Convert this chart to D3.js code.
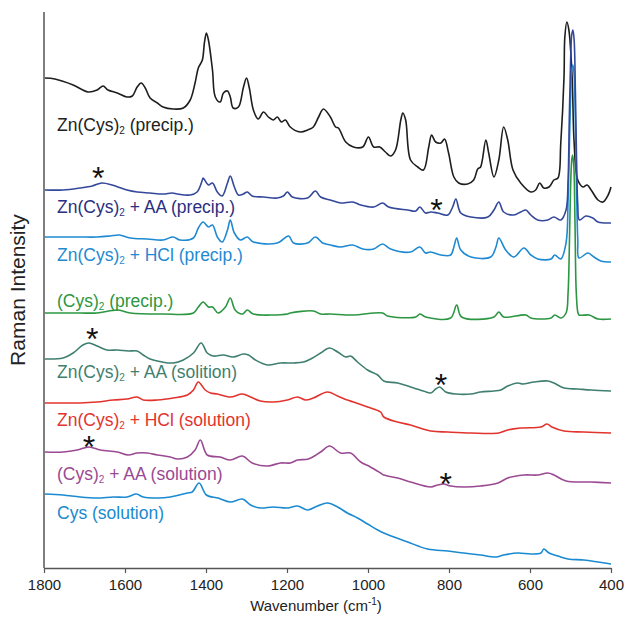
<!DOCTYPE html>
<html><head><meta charset="utf-8">
<script src="https://cdn.jsdelivr.net/npm/d3@7"></script>
<style>
html,body{margin:0;padding:0;background:#fff;}
svg{display:block;font-family:"Liberation Sans",Arial,sans-serif;}
</style></head>
<body>
<svg id="chart" width="628" height="622"></svg>
<script>
// Wavenumber axis ticks
const xTicks = [1800, 1600, 1400, 1200, 1000, 800, 600, 400];

// Spectra: [wavenumber (cm-1), stacked intensity (a.u.)]
const znCysPrecip = [[1798,490],[1773,489],[1728,483],[1691,476],[1669,478],[1654,482],[1642,478],[1619,475],[1595,471],[1582,472],[1570,481],[1560,485],[1550,480],[1538,470],[1520,465],[1506,461],[1481,459],[1456,460],[1439,468],[1427,485],[1419,500],[1409,508],[1404,525],[1399,535],[1394,528],[1384,498],[1377,471],[1365,466],[1357,475],[1347,477],[1340,471],[1333,460],[1320,461],[1308,480],[1300,490],[1293,480],[1283,458],[1271,449],[1258,456],[1246,451],[1234,448],[1224,451],[1214,446],[1204,448],[1192,441],[1167,436],[1149,438],[1135,441],[1122,451],[1110,459],[1093,451],[1080,441],[1073,440],[1055,426],[1036,421],[1013,421],[999,431],[986,421],[971,421],[957,416],[944,412],[932,418],[919,448],[914,455],[907,448],[895,408],[877,401],[863,398],[850,421],[843,433],[833,426],[820,425],[811,429],[801,415],[788,391],[776,385],[754,384],[739,388],[729,399],[722,401],[709,428],[702,415],[689,391],[677,408],[665,441],[655,428],[642,398],[623,385],[598,376],[586,378],[576,385],[566,380],[553,381],[541,388],[531,390],[524,425],[516,491],[514,531],[509,546],[504,538],[496,491],[491,425],[482,388],[469,381],[459,383],[449,378],[432,368],[420,366],[407,373],[400,381]];

const znCysAAPrecip = [[1798,378],[1753,378],[1711,380],[1681,382],[1657,385],[1632,383],[1617,381],[1595,378],[1570,376],[1538,375],[1506,374],[1483,375],[1471,374],[1439,373],[1422,376],[1409,388],[1407,390],[1394,383],[1384,385],[1372,376],[1360,372],[1347,385],[1340,392],[1330,381],[1320,373],[1308,374],[1298,376],[1286,372],[1258,371],[1224,370],[1209,372],[1199,376],[1187,371],[1149,370],[1130,377],[1117,371],[1093,368],[1068,365],[1038,366],[1018,363],[986,361],[964,365],[949,361],[902,358],[882,357],[872,361],[858,355],[845,356],[828,355],[803,353],[791,361],[783,369],[771,355],[746,351],[704,351],[689,358],[677,366],[665,356],[640,353],[623,356],[610,358],[598,353],[581,348],[556,348],[541,351],[524,348],[511,358],[506,388],[503,448],[500,503],[497,533],[494,538],[491,528],[488,478],[485,408],[482,363],[478,348],[462,352],[445,350],[432,346],[400,345]];

const znCysHClPrecip = [[1798,331],[1753,331],[1711,331],[1669,331],[1637,332],[1614,333],[1587,330],[1545,329],[1506,328],[1481,331],[1464,328],[1431,330],[1419,340],[1407,346],[1394,341],[1384,343],[1372,331],[1360,326],[1347,338],[1340,348],[1330,335],[1315,328],[1298,331],[1283,326],[1224,325],[1196,332],[1184,325],[1149,325],[1130,331],[1112,325],[1093,323],[1068,321],[1038,323],[1013,319],[986,319],[964,324],[944,319],[895,316],[872,321],[858,315],[845,316],[820,313],[796,313],[788,321],[781,330],[771,318],[746,311],[697,311],[684,321],[677,330],[660,318],[640,311],[615,320],[598,313],[581,309],[548,309],[539,313],[524,309],[511,325],[506,368],[503,418],[500,468],[497,498],[494,503],[491,493],[488,448],[485,378],[482,328],[479,310],[457,315],[442,311],[425,307],[400,306]];

const cys2Precip = [[1798,255],[1711,255],[1669,255],[1617,258],[1587,255],[1506,254],[1431,255],[1419,261],[1407,266],[1394,261],[1384,261],[1370,255],[1352,261],[1340,270],[1328,258],[1310,254],[1298,258],[1283,254],[1199,254],[1192,255],[1135,257],[1117,254],[1093,254],[1036,253],[964,255],[952,252],[882,251],[872,254],[858,251],[796,250],[781,263],[769,251],[689,251],[677,256],[665,251],[610,253],[598,250],[548,250],[539,253],[524,250],[511,255],[506,275],[503,318],[500,378],[497,408],[495,413],[492,403],[489,348],[486,278],[482,256],[479,253],[454,253],[432,249],[400,249]];

const znCysAASolution = [[1798,209],[1753,210],[1728,215],[1704,223],[1689,225],[1669,222],[1644,218],[1619,218],[1592,217],[1570,217],[1555,213],[1538,209],[1508,206],[1481,205],[1456,208],[1431,215],[1412,225],[1397,215],[1382,212],[1357,213],[1333,211],[1308,214],[1295,213],[1278,208],[1248,203],[1216,205],[1184,205],[1159,206],[1137,210],[1117,215],[1095,220],[1075,216],[1055,211],[1043,212],[1026,206],[1001,198],[976,193],[961,187],[927,185],[895,181],[863,177],[845,175],[833,179],[823,181],[808,176],[783,174],[746,174],[722,176],[689,177],[672,178],[655,182],[630,185],[618,184],[590,186],[556,187],[541,185],[516,180],[482,179],[449,178],[400,177]];

const znCysHClSolution = [[1798,165],[1753,165],[1711,165],[1669,166],[1629,168],[1595,169],[1570,171],[1555,168],[1520,168],[1481,170],[1446,173],[1431,178],[1419,186],[1402,178],[1389,175],[1372,174],[1340,171],[1310,174],[1290,171],[1266,167],[1234,166],[1199,168],[1174,171],[1154,168],[1135,170],[1100,176],[1075,172],[1051,168],[1036,166],[1001,161],[969,156],[961,151],[927,146],[895,143],[845,137],[803,136],[746,135],[677,135],[655,138],[623,140],[573,141],[558,144],[546,141],[516,137],[467,136],[400,135]];

const cys2AASolution = [[1798,116],[1753,116],[1718,118],[1689,121],[1661,118],[1619,116],[1592,113],[1570,115],[1545,115],[1520,113],[1488,111],[1471,109],[1446,111],[1427,118],[1414,128],[1397,113],[1365,111],[1340,108],[1310,112],[1286,105],[1248,102],[1216,105],[1192,105],[1174,108],[1147,109],[1117,116],[1095,122],[1068,115],[1043,115],[1018,106],[994,101],[969,95],[961,93],[927,90],[895,86],[845,81],[828,83],[813,84],[796,82],[764,81],[722,82],[679,85],[655,90],[615,93],[581,93],[556,95],[541,93],[511,87],[449,86],[400,85]];

const cysSolution = [[1798,74],[1753,73],[1711,71],[1669,70],[1629,71],[1595,71],[1572,74],[1555,71],[1520,70],[1488,71],[1446,75],[1434,76],[1417,85],[1399,73],[1370,70],[1340,66],[1310,69],[1290,63],[1266,60],[1234,61],[1199,60],[1174,62],[1149,58],[1125,62],[1100,65],[1075,61],[1051,55],[1026,50],[1001,44],[976,38],[961,35],[902,26],[853,19],[803,17],[764,15],[722,13],[684,11],[665,13],[630,15],[598,14],[573,15],[566,19],[553,15],[531,12],[506,9],[467,8],[432,6],[400,4]];

const seriesNames = ["Zn(Cys)2 (precip.)","Zn(Cys)2 + AA (precip.)","Zn(Cys)2 + HCl (precip.)","(Cys)2 (precip.)","Zn(Cys)2 + AA (solition)","Zn(Cys)2 + HCl (solution)","(Cys)2 + AA (solution)","Cys (solution)"];

// Asterisk markers [wavenumber, intensity]
const asterisks = [[1666,396],[831,364],[1681,235],[820,189],[1689,127],[808,90]];

const W = 628, H = 622;
const margin = {left:44, right:17, top:12, bottom:54};
const svg = d3.select("#chart");

const x = d3.scaleLinear().domain([1800, 400]).range([margin.left, W - margin.right]);
const y = d3.scaleLinear().domain([0, 556]).range([H - margin.bottom, margin.top]);

const series = [
  {name: seriesNames[0], data: znCysPrecip, color: "#1e1e1e", label: "#222222", ly: 131, parts: ["Zn(Cys)", "2", " (precip.)"]},
  {name: seriesNames[1], data: znCysAAPrecip, color: "#34489a", label: "#2b2f80", ly: 213, parts: ["Zn(Cys)", "2", " + AA (precip.)"]},
  {name: seriesNames[2], data: znCysHClPrecip, color: "#1f8ad2", label: "#1f8ad2", ly: 261, parts: ["Zn(Cys)", "2", " + HCl (precip.)"]},
  {name: seriesNames[3], data: cys2Precip, color: "#2c9642", label: "#2c9642", ly: 307, parts: ["(Cys)", "2", " (precip.)"]},
  {name: seriesNames[4], data: znCysAASolution, color: "#3f7f70", label: "#3f7f70", ly: 378, parts: ["Zn(Cys)", "2", " + AA (solition)"]},
  {name: seriesNames[5], data: znCysHClSolution, color: "#e2342e", label: "#e2342e", ly: 426, parts: ["Zn(Cys)", "2", " + HCl (solution)"]},
  {name: seriesNames[6], data: cys2AASolution, color: "#9a4a92", label: "#9a4a92", ly: 480, parts: ["(Cys)", "2", " + AA (solution)"]},
  {name: seriesNames[7], data: cysSolution, color: "#1b8ad0", label: "#1b8ad0", ly: 519, parts: ["Cys (solution)", "", ""]}
];

const line = d3.line().x(d => x(d[0])).y(d => y(d[1])).curve(d3.curveCatmullRom.alpha(0.5));

// draw lines bottom-up so precip blues overlay correctly
const order = [7,6,5,4,0,3,2,1];
order.forEach(i => {
  const s = series[i];
  svg.append("path").datum(s.data)
    .attr("fill", "none").attr("stroke", s.color)
    .attr("stroke-width", 1.6).attr("stroke-linejoin", "round")
    .attr("d", line);
});

// labels
series.forEach(s => {
  const t = svg.append("text").attr("x", 57).attr("y", s.ly)
    .attr("font-size", 17.5).attr("fill", s.label);
  t.append("tspan").text(s.parts[0]);
  if (s.parts[1]) {
    t.append("tspan").attr("font-size", 10).attr("dy", 3).text(s.parts[1]);
    t.append("tspan").attr("dy", -3).text(s.parts[2]);
  }
});

// asterisks
svg.selectAll("text.ast").data(asterisks).enter().append("text")
  .attr("class", "ast")
  .attr("x", d => x(d[0])).attr("y", d => y(d[1]) + 17)
  .attr("text-anchor", "middle").attr("font-size", 32).attr("fill", "#111")
  .text("*");

// axes
const xAxis = d3.axisBottom(x).tickValues(xTicks).tickFormat(d3.format("d"))
  .tickSize(5).tickPadding(6).tickSizeOuter(0);
const gx = svg.append("g").attr("transform", `translate(0,${H - margin.bottom})`).call(xAxis);
gx.select(".domain").attr("stroke", "#555").attr("stroke-width", 1.5);
gx.selectAll(".tick line").attr("stroke", "#555").attr("stroke-width", 1.2);
gx.selectAll(".tick text").attr("font-size", 15).attr("fill", "#222")
  .attr("font-family", "Liberation Sans, Arial, sans-serif");

svg.append("line")
  .attr("x1", margin.left).attr("x2", margin.left)
  .attr("y1", margin.top).attr("y2", H - margin.bottom)
  .attr("stroke", "#555").attr("stroke-width", 1.5);

const xt = svg.append("text").attr("x", 316).attr("y", 611)
  .attr("text-anchor", "middle").attr("font-size", 15).attr("fill", "#222");
xt.append("tspan").text("Wavenumber (cm");
xt.append("tspan").attr("font-size", 10).attr("dy", -6).text("-1");
xt.append("tspan").attr("dy", 6).text(")");

svg.append("text")
  .attr("transform", "translate(25,290) rotate(-90)")
  .attr("text-anchor", "middle").attr("font-size", 21).attr("fill", "#222")
  .text("Raman Intensity");
</script>
</body></html>
